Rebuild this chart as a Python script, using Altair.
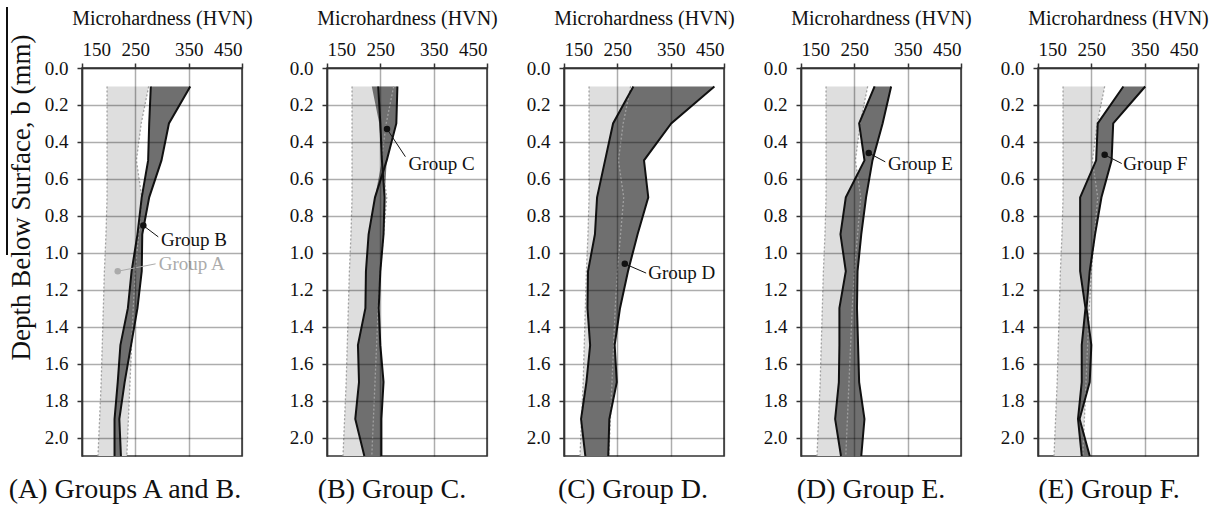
import altair as alt
import pandas as pd

# Depths (mm) at which the microhardness traverses were taken
DEPTH = [0.1, 0.3, 0.5, 0.7, 0.9, 1.1, 1.3, 1.5, 1.7, 1.9, 2.1]

# Group A (reference band, repeated in every panel)
GROUP_A_LO = [197, 197, 197, 197, 195, 192, 190, 188, 186, 183, 180]
GROUP_A_HI = [275, 261, 252, 262, 256, 250, 246, 243, 240, 237, 234]

# Group B
GROUP_B_LO = [279, 276, 274, 262, 254, 243, 236, 222, 217, 211, 211]
GROUP_B_HI = [353, 313, 299, 276, 263, 262, 254, 242, 230, 220, 223]

# Group C (outline traces cross, so the band is kept separately)
GROUP_C_LO = [234, 248, 253, 240, 228, 223, 222, 208, 210, 203, 220]
GROUP_C_HI = [282, 280, 262, 258, 256, 250, 247, 250, 256, 252, 252]
GROUP_C_LINE1 = [282, 280, 262, 240, 228, 223, 222, 208, 210, 203, 220]
GROUP_C_LINE2 = [246, 250, 253, 258, 256, 250, 247, 250, 256, 252, 252]

# Group D
GROUP_D_LO = [280, 242, 227, 212, 208, 195, 194, 199, 192, 182, 190]
GROUP_D_HI = [432, 351, 300, 308, 288, 270, 255, 245, 249, 235, 233]

# Group E
GROUP_E_LO = [288, 259, 269, 234, 224, 234, 222, 222, 221, 214, 225]
GROUP_E_HI = [319, 303, 284, 272, 263, 256, 255, 257, 259, 269, 263]

# Group F
GROUP_F_LO = [310, 262, 259, 229, 229, 229, 239, 232, 232, 225, 232]
GROUP_F_HI = [351, 291, 288, 269, 257, 247, 241, 250, 247, 228, 247]

CAPTIONS = ["(A) Groups A and B.", "(B) Group C.", "(C) Group D.",
            "(D) Group E.", "(E) Group F."]
CAPTION_DX = [-37, -15, -11, -10, -9]

# Callouts: name, marker (HVN, depth), leader end, text anchor, colour
LABELS = [
    [("Group B", 265, 0.853, 293, 0.914, 298, 0.93, "#111111"),
     ("Group A", 217, 1.10, 288, 1.06, 294, 1.06, "#ababab")],
    [("Group C", 262.5, 0.33, 297, 0.48, 303, 0.517, "#111111")],
    [("Group D", 264, 1.06, 304, 1.11, 308, 1.11, "#111111")],
    [("Group E", 277, 0.46, 308, 0.508, 313, 0.517, "#111111")],
    [("Group F", 275, 0.47, 307, 0.517, 310, 0.517, "#111111")],
]

PANELS = [
    (GROUP_B_LO, GROUP_B_HI, [GROUP_B_LO, GROUP_B_HI]),
    (GROUP_C_LO, GROUP_C_HI, [GROUP_C_LINE1, GROUP_C_LINE2]),
    (GROUP_D_LO, GROUP_D_HI, [GROUP_D_LO, GROUP_D_HI]),
    (GROUP_E_LO, GROUP_E_HI, [GROUP_E_LO, GROUP_E_HI]),
    (GROUP_F_LO, GROUP_F_HI, [GROUP_F_LO, GROUP_F_HI]),
]

SERIF = "Liberation Serif"
X_TICKS = [150, 250, 350, 450]
Y_TICKS = [0.0, 0.2, 0.4, 0.6, 0.8, 1.0, 1.2, 1.4, 1.6, 1.8, 2.0]

X_SCALE = alt.Scale(domain=[150, 450], nice=False, zero=False)
Y_SCALE = alt.Scale(domain=[0, 2.1], reverse=True, nice=False, zero=False)

X_AXIS = alt.Axis(orient="top", values=X_TICKS, title="Microhardness (HVN)",
                  labelFont=SERIF, titleFont=SERIF,
                  labelPadding=4, titlePadding=12, zindex=1)


def y_axis(first):
    if first:
        return alt.Axis(values=Y_TICKS, format=".1f", labelPadding=9, zindex=1,
                        labelFont=SERIF, titleFont=SERIF,
                        title="Depth Below Surface, b (mm)", titleFontSize=27,
                        titleX=-47, titleY=129, titleAngle=270,
                        titleAlign="center", titleBaseline="bottom")
    return alt.Axis(values=Y_TICKS, format=".1f", labelPadding=9, zindex=1,
                    labelFont=SERIF, title=None)


def xq(field):
    return alt.X(f"{field}:Q", scale=X_SCALE, axis=X_AXIS)


def yq(field, first):
    return alt.Y(f"{field}:Q", scale=Y_SCALE, axis=y_axis(first))


def build_panel(i):
    lo, hi, lines = PANELS[i]
    first = i == 0

    ref = pd.DataFrame({"depth": DEPTH, "lo": GROUP_A_LO, "hi": GROUP_A_HI})
    ref_edges = pd.DataFrame({
        "depth": DEPTH + DEPTH,
        "v": GROUP_A_LO + GROUP_A_HI,
        "edge": ["lo"] * len(DEPTH) + ["hi"] * len(DEPTH),
    })
    band = pd.DataFrame({"depth": DEPTH, "lo": lo, "hi": hi})
    traces = pd.DataFrame({
        "depth": DEPTH * len(lines),
        "v": [v for ln in lines for v in ln],
        "trace": [k for k, ln in enumerate(lines) for _ in ln],
    })
    labs = pd.DataFrame(LABELS[i], columns=["name", "dv", "dd", "ev", "ed",
                                            "tv", "td", "color"])

    ref_area = alt.Chart(ref).mark_area(orient="horizontal", color="#dedede").encode(
        x=xq("lo"), x2="hi:Q", y=yq("depth", first))
    grp_area = alt.Chart(band).mark_area(orient="horizontal", color="#6f6f6f").encode(
        x=xq("lo"), x2="hi:Q", y=yq("depth", first))
    ref_line = alt.Chart(ref_edges).mark_line(
        color="#a0a0a0", strokeDash=[2, 2], strokeWidth=1.3).encode(
        x=xq("v"), y=yq("depth", first), detail="edge:N", order="depth:Q")
    grp_line = alt.Chart(traces).mark_line(color="#111111", strokeWidth=2).encode(
        x=xq("v"), y=yq("depth", first), detail="trace:N", order="depth:Q")
    leader = alt.Chart(labs).mark_rule(strokeWidth=1).encode(
        x=xq("dv"), y=yq("dd", first), x2="ev:Q", y2="ed:Q",
        color=alt.Color("color:N", scale=None))
    dot = alt.Chart(labs).mark_circle(size=42, opacity=1).encode(
        x=xq("dv"), y=yq("dd", first), color=alt.Color("color:N", scale=None))
    txt = alt.Chart(labs).mark_text(
        align="left", baseline="middle", font=SERIF, fontSize=19).encode(
        x=xq("tv"), y=yq("td", first), text="name:N",
        color=alt.Color("color:N", scale=None))

    layers = [ref_area, grp_area, ref_line, grp_line, leader, dot, txt]
    if first:
        stroke = alt.Chart(ref).mark_rule(color="#111111", strokeWidth=1.5).encode(
            x=alt.value(-75), y=alt.value(-61), y2=alt.value(187))
        layers.append(stroke)

    return alt.layer(*layers).properties(
        width=160, height=388,
        title=alt.TitleParams(CAPTIONS[i], orient="bottom", anchor="middle",
                              frame="group", offset=16, dx=CAPTION_DX[i],
                              font=SERIF, fontSize=28, fontWeight="normal",
                              color="#111111"))


panels = [build_panel(i) for i in range(5)]
rest = alt.hconcat(*panels[1:], spacing=77, bounds="flush")
chart = alt.hconcat(panels[0], rest, spacing=85, bounds="flush").properties(
    padding={"left": 5, "top": 5, "right": 5, "bottom": 5}
).configure(
    font=SERIF
).configure_axis(
    labelFont=SERIF, titleFont=SERIF, labelFontSize=19, titleFontSize=20,
    titleFontWeight="normal", labelColor="#111111", titleColor="#111111",
    domainColor="#333333", domainWidth=1.5, tickColor="#333333",
    tickWidth=1.5, tickSize=5, gridColor="#000000", gridOpacity=0.32,
    gridWidth=1.5,
).configure_view(
    stroke="#333333", strokeWidth=1.5
).configure_title(
    font=SERIF, fontSize=28, fontWeight="normal", color="#111111"
)

chart.save("out.html", embed_options={"renderer": "svg", "actions": False})
